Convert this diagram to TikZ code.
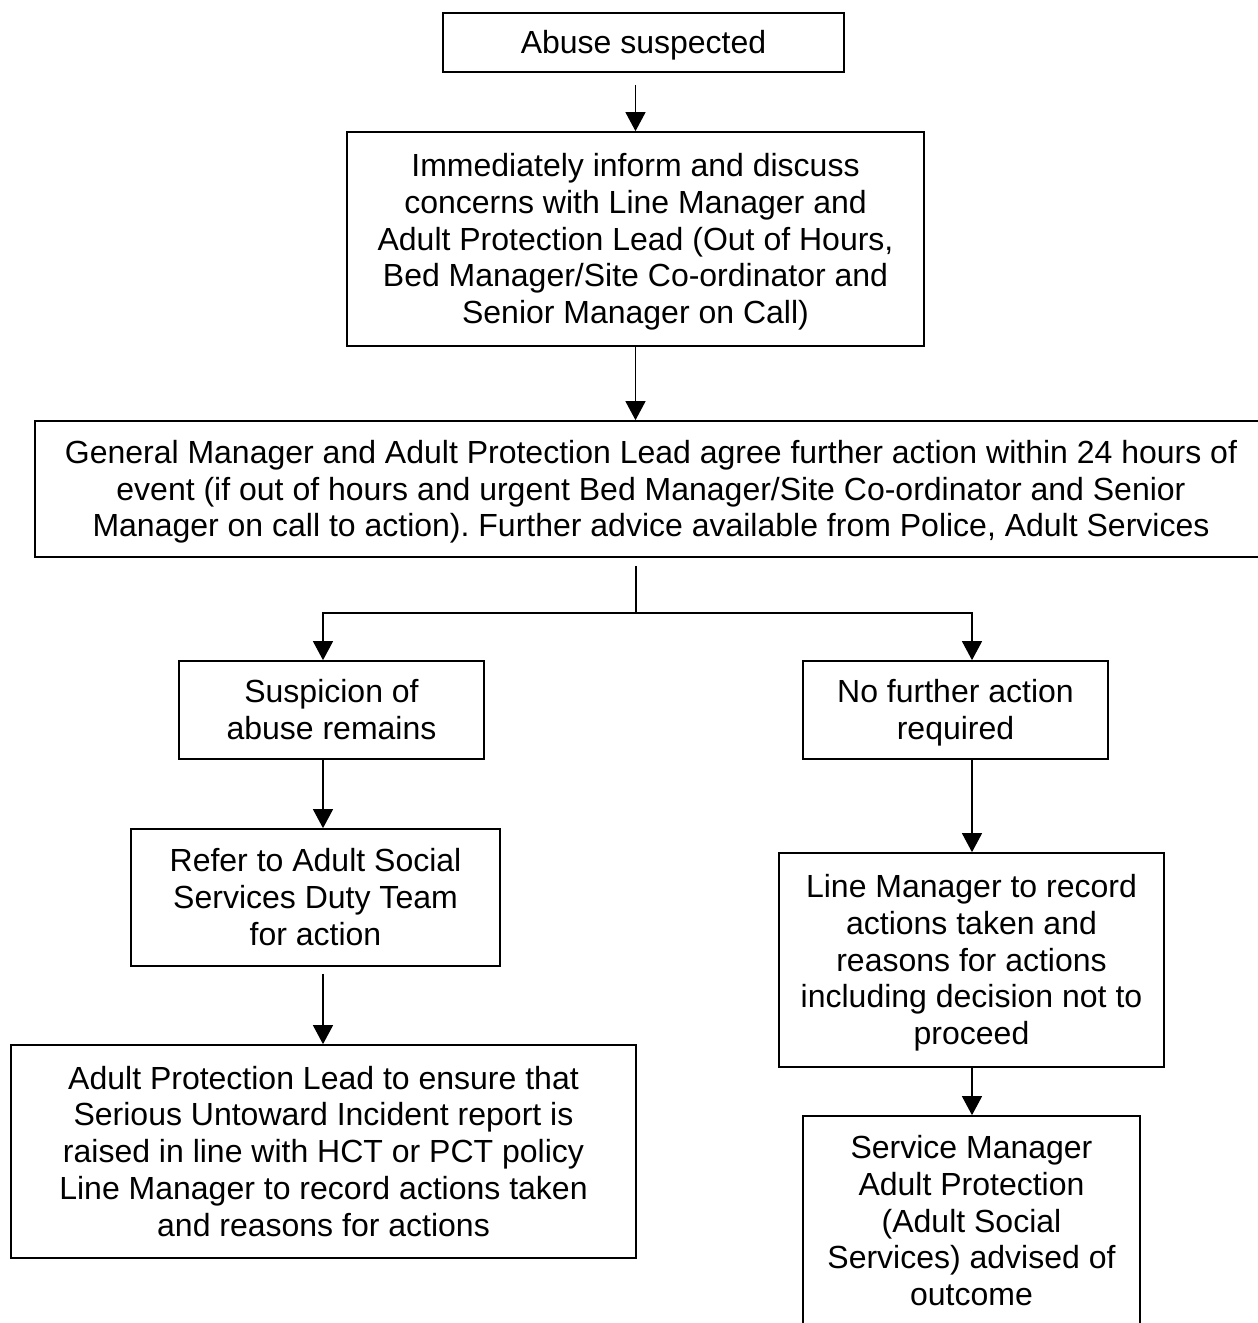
\documentclass[tikz,border=0pt]{standalone}
\usepackage{fontspec}
\setmainfont{Liberation Sans}
\usetikzlibrary{arrows.meta,calc}
\newcommand{\wstrut}{\rule[-0.212em]{0pt}{1.117em}}
\tikzset{
  box/.style={draw=black, line width=0.85pt, rectangle, inner sep=0pt, align=center,
    font=\fontsize{16}{18.35}\selectfont\frenchspacing},
  conn/.style={draw=black, line width=0.65pt},
  arr/.style={conn, -{Triangle[length=9.5pt,width=10pt]}},
}
\begin{document}
\begin{tikzpicture}[x=0.5pt,y=-0.5pt]
\useasboundingbox[fill=white] (0,0) rectangle (1258,1323);
% boxes
\node[box, minimum width=200.5pt, minimum height=29.5pt] (b1) at (643.5,42.5) {\wstrut Abuse suspected\wstrut};
\node[box, minimum width=288.5pt, minimum height=107pt] (b2) at (635.5,239)
  {\wstrut Immediately inform and discuss\\concerns with Line Manager and\\Adult Protection Lead (Out of Hours,\\Bed Manager/Site Co-ordinator and\\Senior Manager on Call)\wstrut};
\node[box, minimum width=612pt, minimum height=68pt] (b3) at (647,489)
  {\wstrut\hspace*{4pt}General Manager and Adult Protection Lead agree further action within 24 hours of\\\hspace*{4pt}event (if out of hours and urgent Bed Manager/Site Co-ordinator and Senior\\\hspace*{4pt}Manager on call to action). Further advice available from Police, Adult Services\wstrut};
\node[box, minimum width=152.5pt, minimum height=49pt] (b4) at (331.5,710)
  {\wstrut Suspicion of\\abuse remains\wstrut};
\node[box, minimum width=152.5pt, minimum height=49pt] (b5) at (955.5,710)
  {\wstrut No further action\\required\wstrut};
\node[box, minimum width=184.5pt, minimum height=68.5pt] (b6) at (315.5,897.5)
  {\wstrut Refer to Adult Social\\Services Duty Team\\for action\wstrut};
\node[box, minimum width=312.5pt, minimum height=106.5pt] (b7) at (323.5,1151.5)
  {\wstrut Adult Protection Lead to ensure that\\Serious Untoward Incident report is\\raised in line with HCT or PCT policy\\Line Manager to record actions taken\\and reasons for actions\wstrut};
\node[box, minimum width=192.5pt, minimum height=107pt] (b8) at (971.5,960)
  {\wstrut Line Manager to record\\actions taken and\\reasons for actions\\including decision not to\\proceed\wstrut};
\node[box, minimum width=168.5pt, minimum height=105pt] (b9) at (971.5,1221)
  {\wstrut Service Manager\\Adult Protection\\(Adult Social\\Services) advised of\\outcome\wstrut};
% junction coordinates
\coordinate (jn) at (636,613);
\coordinate (jl) at (323,613);
\coordinate (jr) at (972,613);
% connectors
\draw[arr, shorten <=6pt] (b1.south -| b2.north) -- (b2.north);
\draw[arr] (b2.south) -- (b2.south |- b3.north);
\draw[conn, shorten <=4pt] (b3.south -| jn) -- (jn);
\draw[arr] (jn) -- (jl) -- (jl |- b4.north);
\draw[arr] (jn) -- (jr) -- (jr |- b5.north);
\draw[arr] (jl |- b4.south) -- (jl |- b6.north);
\draw[arr, shorten <=3.5pt] (jl |- b6.south) -- (jl |- b7.north);
\draw[arr] (jr |- b5.south) -- (jr |- b8.north);
\draw[arr] (jr |- b8.south) -- (jr |- b9.north);
\end{tikzpicture}
\end{document}
